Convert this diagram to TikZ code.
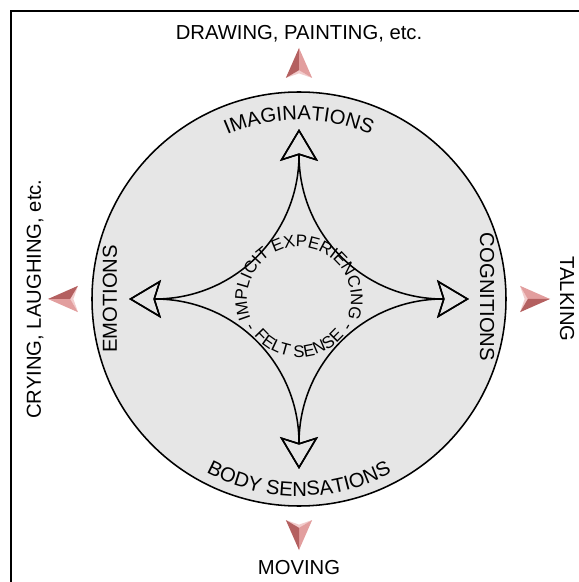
\documentclass[tikz,border=0pt]{standalone}
\usepackage{fontspec}
\setmainfont{Liberation Sans}
\definecolor{discgray}{RGB}{230, 230, 230}
\definecolor{pinkdark}{RGB}{180, 96, 96}
\definecolor{pinklight}{RGB}{226, 158, 158}
\definecolor{pinkpale}{RGB}{242, 204, 204}
\usetikzlibrary{arrows.meta, decorations.text}
\newcommand{\bigfont}{\fontsize{14.4}{17}\selectfont}
\newcommand{\smallfont}{\fontsize{12}{14}\selectfont}

\begin{document}
\begin{tikzpicture}[
  label/.style={font=\bigfont, inner sep=0pt},
  flow/.style={line width=1.1pt, {Stealth[open, length=0.8cm, width=0.95cm, inset=0.15cm]}-{Stealth[open, length=0.8cm, width=0.95cm, inset=0.15cm]}},
  curved/.style={decorate, decoration={text along path, text align=center, text={#1}}}
]
  \useasboundingbox (-7.475,-7.075) rectangle (7.0,7.475);
  \clip (-7.475,-7.075) rectangle (7.0,7.475);

  % Frame
  \draw[line width=1.4pt] (-7.21,-8) -- (-7.21,7.21) -- (8,7.21);

  % Disc
  \draw[line width=1.1pt, fill=discgray] (0,0) circle (5.175);

  % Pink arrows
  \foreach \a/\ca/\cb in {0/pinkdark/pinklight, 90/pinklight/pinkdark, 180/pinklight/pinkdark, -90/pinklight/pinkdark} {
    \begin{scope}[rotate=\a]
      \fill[pinkpale] (-0.33,5.525) -- (0,5.72) -- (0.33,5.525) -- (0,5.64) -- cycle;
      \fill[\ca] (0,6.275) -- (-0.33,5.525) -- (0,5.72) -- cycle;
      \fill[\cb] (0,6.275) -- (0,5.72) -- (0.33,5.525) -- cycle;
    \end{scope}
  }

  \node[label] (drawing) at (0,6.62) {DRAWING, PAINTING, etc.};
  \node[label] (moving) at (0,-6.72) {MOVING};
  \node[label, rotate=-90] (talking) at (6.7,0) {TALKING};
  \node[label, rotate=90] (crying) at (-6.6,0) {CRYING, LAUGHING, etc.};

  % Star
  \coordinate (imag) at (0,4.25);
  \coordinate (cogn) at (4.25,0);
  \coordinate (body) at (0,-4.25);
  \coordinate (emot) at (-4.25,0);
  \draw[flow] (imag) -- ++(0,-0.65) arc[start angle=0, end angle=-90, radius=3.6] -- (emot);
  \draw[flow] (imag) -- ++(0,-0.65) arc[start angle=180, end angle=270, radius=3.6] -- (cogn);
  \draw[flow] (body) -- ++(0,0.65) arc[start angle=0, end angle=90, radius=3.6] -- (emot);
  \draw[flow] (body) -- ++(0,0.65) arc[start angle=180, end angle=90, radius=3.6] -- (cogn);

  % Labels in the disc
  \path[curved={|\bigfont|IMAGINATIONS}] (150:4.475) arc[start angle=150, end angle=30, radius=4.475];
  \path[curved={|\bigfont|BODY SENSATIONS}] (210:4.925) arc[start angle=210, end angle=330, radius=4.925];
  \node[label, rotate=-90] (cognitions) at (4.7,0.05) {COGNITIONS};
  \node[label, rotate=90] (emotions) at (-4.725,0) {EMOTIONS};

  \path[curved={|\smallfont|- IMPLICIT EXPERIENCING -}] (230:1.3) arc[start angle=230, end angle=-50, radius=1.3];
  \path[curved={|\smallfont|FELT SENSE}] (200:1.45) arc[start angle=200, end angle=340, radius=1.45];
\end{tikzpicture}
\end{document}
